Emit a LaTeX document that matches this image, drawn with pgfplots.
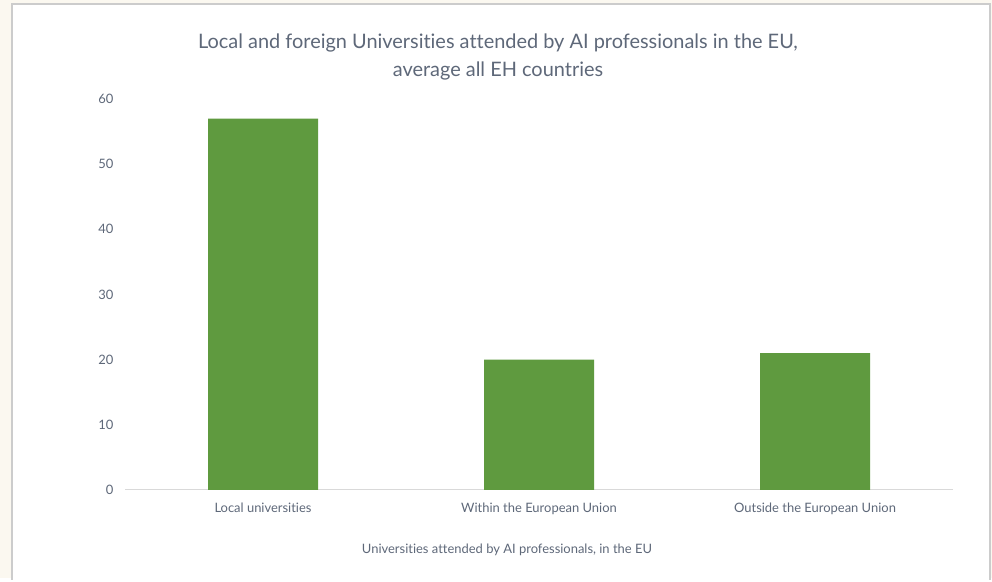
\documentclass[border=0pt]{standalone}
\usepackage{pgfplots}
\pgfplotsset{compat=1.18}
\usepackage{fontspec}
\setmainfont{Lato}[Ligatures=NoCommon]
\definecolor{txt}{HTML}{5E6879}
\definecolor{bar}{HTML}{5F9A3F}
\definecolor{cream}{HTML}{FBF8F0}
\definecolor{frame}{HTML}{CCCCCC}
\definecolor{axl}{HTML}{D9D9D9}
\begin{document}
\begin{tikzpicture}[x=1bp,y=1bp]
\fill[cream] (0,0) rectangle (992,578);
\fill[white] (12,0) rectangle (990,574);
\draw[frame,line width=2.2bp] (12,-2) -- (12,574) -- (990,574) -- (990,-2);
\path[use as bounding box] (0,0) rectangle (992,578);
\begin{axis}[
  at={(125bp,88bp)}, anchor=south west,
  scale only axis, width=828bp, height=391bp,
  xmin=-0.5, xmax=2.5, ymin=0, ymax=60,
  axis lines=left,
  axis line style={draw=none, -},
  ytick={0,10,20,30,40,50,60},
  xtick={0,1,2},
  xticklabels={Local universities,Within the European Union,Outside the European Union},
  major tick length=0pt,
  tick label style={font=\fontsize{13}{15}\selectfont, text=txt},
  /pgf/number format/assume math mode=true,
  xticklabel style={yshift=-9bp},
  yticklabel style={xshift=-8bp},
  clip=false,
]
\draw[axl, line width=1bp] (axis cs:-0.5,0) -- (axis cs:2.5,0);
\addplot[ybar, bar width=110bp, fill=bar, draw=none] coordinates {(0,57) (1,20) (2,21)};
\end{axis}
\node[text=txt, font=\fontsize{20}{28}\selectfont, align=center] at (498,521) {Local and foreign Universities attended by AI professionals in the EU,\\average all EH countries};
\node[text=txt, font=\fontsize{13}{15}\selectfont] at (507,28) {Universities attended by AI professionals, in the EU};
\end{tikzpicture}
\end{document}
